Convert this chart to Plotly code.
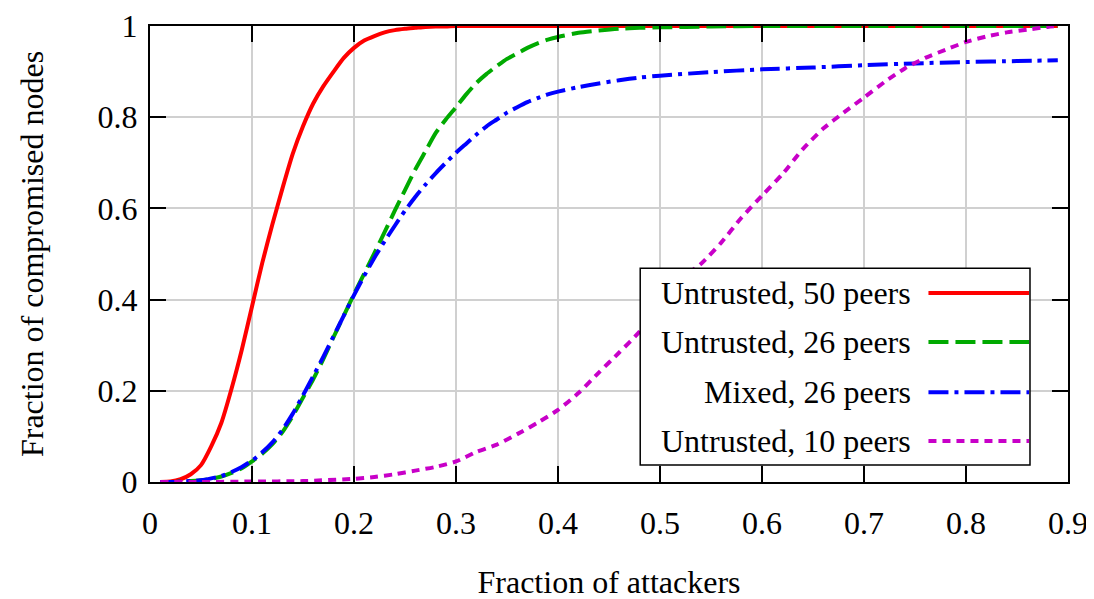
import plotly.graph_objects as go

# ---- data ----
x_red = [0.01,0.02,0.03,0.04,0.05,0.06,0.07,0.08,0.09,0.10,0.11,0.12,0.13,0.14,0.15,0.16,0.17,0.18,0.19,0.20,
         0.21,0.22,0.23,0.24,0.25,0.26,0.27,0.28,0.29,0.30,0.35,0.40,0.50,0.60,0.70,0.80,0.89]
y_red = [0.0,0.001,0.006,0.017,0.037,0.078,0.13,0.205,0.29,0.385,0.48,0.565,0.645,0.72,0.78,0.83,0.868,0.9,0.93,0.952,
         0.968,0.978,0.986,0.991,0.994,0.996,0.998,0.999,0.999,1.0,1.0,1.0,1.0,1.0,1.0,1.0,1.0]

x_green = [0.01,0.02,0.03,0.04,0.05,0.06,0.07,0.08,0.09,0.10,0.11,0.12,0.13,0.14,0.15,0.16,0.17,0.18,0.19,0.20,
           0.21,0.22,0.23,0.24,0.25,0.26,0.27,0.28,0.29,0.30,0.31,0.32,0.33,0.34,0.35,0.36,0.37,0.38,0.39,0.40,
           0.42,0.44,0.46,0.48,0.50,0.55,0.60,0.70,0.80,0.89]
y_green = [0.0,0.0,0.001,0.002,0.004,0.007,0.012,0.02,0.03,0.045,0.062,0.083,0.11,0.145,0.185,0.225,0.27,0.318,0.365,0.412,
           0.457,0.502,0.548,0.595,0.64,0.685,0.725,0.765,0.795,0.822,0.85,0.875,0.895,0.912,0.928,0.94,0.952,0.962,0.97,0.976,
           0.985,0.99,0.994,0.996,0.997,0.999,1.0,1.0,1.0,1.0]

x_blue = [0.01,0.02,0.03,0.04,0.05,0.06,0.07,0.08,0.09,0.10,0.11,0.12,0.13,0.14,0.15,0.16,0.17,0.18,0.19,0.20,
          0.21,0.22,0.23,0.24,0.25,0.26,0.27,0.28,0.29,0.30,0.31,0.32,0.33,0.34,0.35,0.36,0.37,0.38,0.39,0.40,
          0.42,0.44,0.46,0.48,0.50,0.55,0.60,0.65,0.70,0.75,0.80,0.85,0.89]
y_blue = [0.0,0.0,0.001,0.002,0.004,0.008,0.013,0.022,0.033,0.047,0.065,0.087,0.115,0.15,0.19,0.232,0.275,0.32,0.365,0.41,
          0.452,0.492,0.528,0.562,0.595,0.625,0.652,0.677,0.7,0.722,0.742,0.762,0.78,0.795,0.81,0.822,0.833,0.842,0.85,0.856,
          0.866,0.874,0.881,0.887,0.891,0.899,0.905,0.909,0.914,0.918,0.921,0.923,0.925]

x_mag = [0.01,0.05,0.10,0.15,0.20,0.22,0.24,0.26,0.28,0.30,0.32,0.34,0.36,0.38,0.40,0.42,0.44,0.46,0.48,0.50,
         0.52,0.54,0.56,0.58,0.60,0.62,0.64,0.66,0.68,0.70,0.72,0.74,0.76,0.78,0.80,0.82,0.84,0.86,0.88,0.89]
y_mag = [0.0,0.0,0.001,0.002,0.007,0.011,0.017,0.025,0.033,0.045,0.066,0.082,0.105,0.13,0.158,0.195,0.24,0.284,0.33,0.395,
         0.445,0.478,0.525,0.58,0.628,0.675,0.73,0.775,0.81,0.843,0.877,0.907,0.93,0.948,0.965,0.977,0.986,0.992,0.998,1.0]

series_names = ["Untrusted, 50 peers", "Untrusted, 26 peers", "Mixed, 26 peers", "Untrusted, 10 peers"]
x_ticks = [0, 0.1, 0.2, 0.3, 0.4, 0.5, 0.6, 0.7, 0.8, 0.9]
x_tick_labels = ["0", "0.1", "0.2", "0.3", "0.4", "0.5", "0.6", "0.7", "0.8", "0.9"]
y_ticks = [0, 0.2, 0.4, 0.6, 0.8, 1.0]
y_tick_labels = ["0", "0.2", "0.4", "0.6", "0.8", "1"]

colors = ["#ff0000", "#00aa00", "#0000ff", "#c800c8"]
dashes = ["solid", "20px,7px", "20px,6px,4px,6px", "8px,6px"]
widths = [4, 4, 4, 4]

FONT = "Liberation Serif, Times New Roman, serif"
FS = 32

fig = go.Figure()
for xs, ys, name, c, d, w in zip([x_red, x_green, x_blue, x_mag], [y_red, y_green, y_blue, y_mag],
                                 series_names, colors, dashes, widths):
    fig.add_trace(go.Scatter(x=xs, y=ys, mode="lines", name=name,
                             line=dict(color=c, dash=d, width=w, shape="spline", smoothing=0.6),
                             showlegend=False, cliponaxis=False))

axis_common = dict(showline=True, linecolor="black", linewidth=2, mirror="ticks",
                   ticks="inside", ticklen=16, tickwidth=1.5, tickcolor="black",
                   showgrid=True, gridcolor="#d0d0d0", gridwidth=1.5, zeroline=False,
                   ticklabeloverflow="allow",
                   tickfont=dict(family=FONT, size=FS, color="black"))

fig.update_xaxes(range=[0, 0.9], tickvals=x_ticks, ticktext=x_tick_labels, ticklabelstandoff=12,
                 title=dict(text="Fraction of attackers", font=dict(family=FONT, size=FS, color="black"), standoff=30),
                 **axis_common)
fig.update_yaxes(range=[0, 1], tickvals=y_ticks, ticktext=y_tick_labels, ticklabelstandoff=4,
                 title=dict(text="Fraction of compromised nodes", font=dict(family=FONT, size=FS, color="black"), standoff=44),
                 **axis_common)

# custom legend (text on the left, sample on the right, as in the reference)
shapes = [dict(type="rect", xref="paper", yref="paper", x0=0.534, x1=0.9586, y0=0.0373, y1=0.469,
               line=dict(color="black", width=1.5), fillcolor="white", layer="above")]
annotations = []
row_y = [0.4145, 0.307, 0.197, 0.0899]
for name, c, d, w, yy in zip(series_names, colors, dashes, widths, row_y):
    shapes.append(dict(type="line", xref="paper", yref="paper", x0=0.848, x1=0.9575, y0=yy, y1=yy,
                       line=dict(color=c, width=w, dash=d), layer="above"))
    annotations.append(dict(xref="paper", yref="paper", x=0.831, y=yy, text=name, showarrow=False,
                            xanchor="right", yanchor="middle",
                            font=dict(family=FONT, size=FS, color="black")))

fig.update_layout(width=1094, height=599, margin=dict(l=142, r=34, t=18, b=125, autoexpand=False),
                  plot_bgcolor="white", paper_bgcolor="white",
                  shapes=shapes, annotations=annotations, showlegend=False)

fig.write_html("out.html")
